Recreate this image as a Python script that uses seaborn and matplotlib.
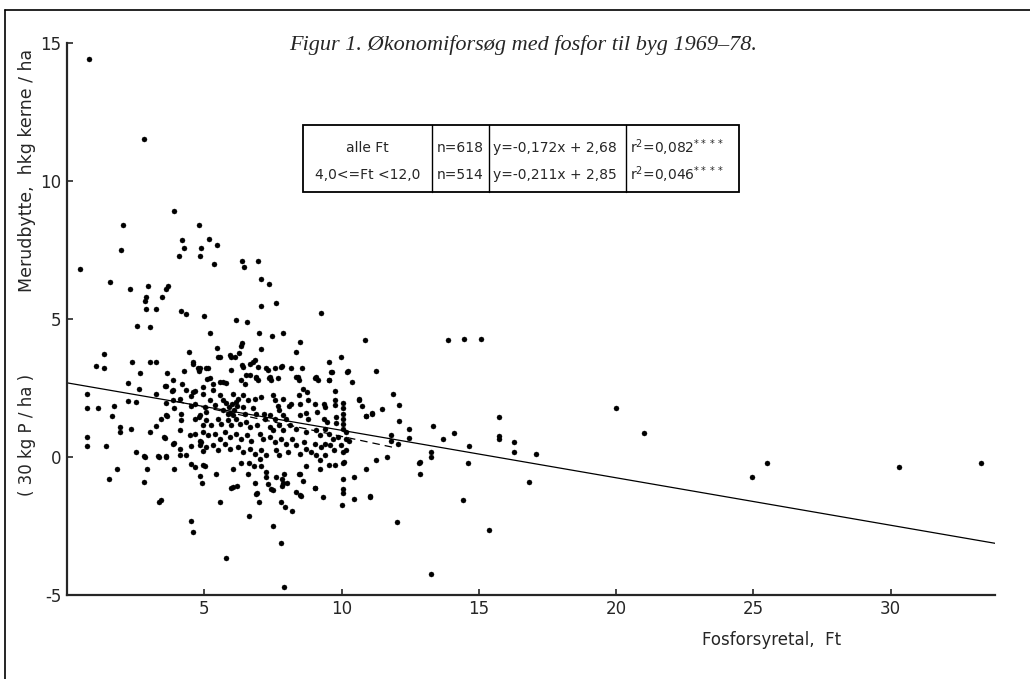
import matplotlib
matplotlib.use("Agg")
import matplotlib.pyplot as plt
import seaborn as sns
import numpy as np
import pandas as pd
from matplotlib.lines import Line2D
from matplotlib.patches import Rectangle

# points, grouped by band of Merudbytte (x = Ft, y = hkg/ha)
points_high = [
    (0.8, 14.4), (2.8, 11.5), (0.47, 6.8), (2.05, 8.4), (1.96, 7.5), (1.56, 6.35), (2.3, 6.07),
    (2.96, 6.2), (2.87, 5.8), (2.84, 5.65), (2.87, 5.36), (3.24, 5.36), (3.47, 5.8), (3.59, 6.07),
    (3.68, 6.18), (3.9, 8.9), (4.18, 7.87), (4.25, 7.56), (4.07, 7.28), (4.8, 8.39), (4.87, 7.56),
    (4.85, 7.27), (5.16, 7.88), (5.47, 7.66), (5.37, 6.97), (6.37, 7.08), (6.45, 6.87), (6.97, 7.08),
    (7.08, 6.45), (7.36, 6.25), (7.08, 5.48), (7.6, 5.57), (9.27, 5.22), (4.16, 5.28), (4.35, 5.16),
    (4.98, 5.09), (6.17, 4.96), (6.57, 4.87), (2.56, 4.75), (3.02, 4.7), (5.2, 4.47), (6.98, 4.47),
    (7.48, 4.39), (7.88, 4.47), (10.87, 4.23), (13.87, 4.23), (14.47, 4.25), (15.08, 4.27),
    (6.37, 4.11), (6.35, 4.03), (8.47, 4.15),
]
points_3_4 = [
    (5.47, 3.95), (9.99, 3.62), (4.45, 3.81), (1.36, 3.71), (1.04, 3.3), (1.36, 3.22), (2.37, 3.42),
    (3.02, 3.42), (3.26, 3.42), (5.5, 3.62), (5.93, 3.68), (6.27, 3.75), (6.36, 3.32), (6.65, 3.38),
    (6.84, 3.5), (6.96, 3.26), (7.26, 3.2), (7.56, 3.2), (7.84, 3.3), (8.33, 3.81), (9.56, 3.42),
    (8.17, 3.2), (8.57, 3.2), (11.26, 3.1), (9.66, 3.08), (10.25, 3.1), (4.59, 3.44), (4.78, 3.2),
    (5.14, 3.2), (4.27, 3.1), (3.66, 3.02), (2.65, 3.02), (7.07, 3.9), (5.99, 3.63), (6.11, 3.63),
    (5.56, 3.63), (6.77, 3.44), (5.99, 3.14), (6.41, 3.26), (7.32, 3.14), (7.8, 3.26), (5.08, 3.2),
    (4.84, 3.2), (9.63, 3.08), (10.21, 3.08), (4.6, 3.35), (4.8, 3.1),
]
points_2_3 = [
    (2.23, 2.69), (2.63, 2.47), (6.53, 2.96), (6.9, 2.84), (7.36, 2.86), (7.68, 2.84), (8.41, 2.9),
    (9.05, 2.86), (9.56, 2.77), (10.39, 2.72), (5.2, 2.84), (5.56, 2.72), (5.78, 2.69), (0.72, 2.29),
    (3.26, 2.29), (3.56, 2.57), (3.87, 2.41), (4.19, 2.62), (4.59, 2.35), (4.96, 2.53), (10.65, 2.08),
    (11.87, 2.29), (2.23, 2.01), (2.53, 1.99), (3.87, 2.77), (3.62, 2.56), (3.83, 2.39), (4.35, 2.41),
    (4.65, 2.39), (4.53, 2.21), (4.11, 2.11), (4.96, 2.29), (3.87, 2.05), (5.1, 2.81), (5.32, 2.65),
    (5.68, 2.72), (6.35, 2.77), (6.47, 2.65), (6.65, 2.96), (6.87, 2.9), (6.96, 2.77), (7.38, 2.9),
    (7.44, 2.77), (8.36, 2.9), (8.44, 2.77), (9.07, 2.9), (9.16, 2.77), (9.53, 2.77), (8.6, 2.45),
    (8.75, 2.33), (8.44, 2.25), (9.78, 2.37), (10.63, 2.05), (8.77, 2.05), (5.32, 2.41), (5.56, 2.23),
    (5.68, 2.05), (6.05, 2.29), (6.23, 2.11), (6.41, 2.23), (6.6, 2.05), (6.84, 2.11), (7.07, 2.17),
    (7.5, 2.23), (7.56, 2.05), (7.87, 2.11), (5.2, 2.05),
]
points_1_2 = [
    (0.72, 1.77), (1.12, 1.77), (1.72, 1.84), (1.63, 1.48), (10.75, 1.84), (10.9, 1.48), (11.12, 1.56),
    (11.48, 1.72), (12.08, 1.89), (12.08, 1.28), (12.47, 0.99), (13.32, 1.1), (15.72, 1.44),
    (1.93, 1.08), (3.24, 1.1), (3.44, 1.38), (3.62, 1.5), (3.62, 1.96), (3.89, 1.77), (4.53, 1.84),
    (4.65, 1.9), (3.65, 1.48), (4.17, 1.56), (4.17, 1.32), (4.65, 1.38), (4.8, 1.44), (4.96, 1.14),
    (2.33, 1.02), (4.11, 0.96), (9.04, 1.93), (9.35, 1.93), (9.41, 1.81), (9.78, 2.05), (9.78, 1.87),
    (10.07, 1.96), (10.07, 1.78), (8.08, 1.84), (8.17, 1.93), (8.47, 1.93), (7.68, 1.84), (7.74, 1.68),
    (5.8, 1.95), (5.9, 1.8), (6.0, 1.9), (6.1, 1.7), (6.2, 1.85), (5.95, 1.6), (6.05, 1.5), (5.7, 1.7),
    (6.15, 2.0), (5.85, 1.55), (5.38, 1.87), (5.02, 1.81), (5.08, 1.62), (4.84, 1.5), (6.41, 1.81),
    (6.47, 1.56), (6.77, 1.75), (6.87, 1.56), (7.16, 1.56), (7.23, 1.38), (7.41, 1.5), (7.59, 1.38),
    (7.87, 1.5), (7.99, 1.38), (8.11, 1.14), (8.47, 1.5), (8.71, 1.6), (8.77, 1.38), (9.12, 1.62),
    (9.35, 1.38), (9.47, 1.26), (9.81, 1.44), (9.81, 1.23), (10.07, 1.56), (10.07, 1.38), (10.07, 1.2),
    (10.07, 1.02), (5.08, 1.32), (5.25, 1.14), (5.5, 1.38), (5.62, 1.2), (5.87, 1.32), (5.99, 1.14),
    (6.17, 1.38), (6.29, 1.2), (6.53, 1.26), (6.65, 1.08), (6.94, 1.14), (7.38, 1.08), (7.74, 1.14),
    (8.34, 1.02), (9.41, 1.02), (11.1, 1.59), (10.88, 1.47), (20.01, 1.75),
]
points_0_1 = [
    (12.47, 0.68), (13.68, 0.65), (14.11, 0.86), (15.72, 0.75), (15.72, 0.63), (16.29, 0.53),
    (16.29, 0.19), (14.65, 0.39), (13.26, 0.19), (13.26, 0.0), (11.66, -0.01), (0.74, 0.72),
    (0.74, 0.39), (1.44, 0.39), (1.93, 0.9), (3.04, 0.9), (2.53, 0.17), (3.54, 0.72), (3.87, 0.47),
    (4.11, 0.07), (10.05, 0.17), (4.47, 0.78), (4.65, 0.82), (3.56, 0.69), (4.84, 0.59), (3.89, 0.51),
    (4.11, 0.29), (4.53, 0.39), (4.84, 0.41), (4.96, 0.2), (2.8, 0.02), (3.32, 0.02), (3.62, 0.02),
    (4.35, 0.07), (10.17, 0.9), (7.5, 0.96), (7.87, 0.96), (8.71, 0.9), (9.07, 0.96), (9.2, 0.78),
    (9.56, 0.84), (9.68, 0.65), (9.86, 0.72), (10.17, 0.65), (4.96, 0.9), (5.14, 0.78), (5.38, 0.84),
    (5.56, 0.65), (5.75, 0.9), (5.93, 0.72), (6.17, 0.84), (6.35, 0.65), (6.56, 0.78), (6.69, 0.59),
    (7.02, 0.84), (7.14, 0.65), (7.38, 0.72), (7.56, 0.53), (7.8, 0.65), (7.99, 0.47), (8.21, 0.65),
    (8.34, 0.41), (8.65, 0.53), (8.71, 0.29), (9.02, 0.47), (9.24, 0.35), (9.41, 0.47), (9.59, 0.41),
    (9.71, 0.23), (9.99, 0.41), (10.17, 0.23), (4.89, 0.53), (5.08, 0.35), (5.32, 0.41), (5.5, 0.23),
    (5.75, 0.47), (5.93, 0.29), (6.23, 0.35), (6.41, 0.17), (6.65, 0.29), (6.84, 0.11), (7.07, 0.23),
    (7.26, 0.05), (7.61, 0.23), (7.74, 0.05), (8.05, 0.17), (8.47, 0.11), (8.88, 0.17), (9.07, 0.05),
    (9.41, 0.05), (11.81, 0.8), (11.81, 0.59), (12.07, 0.47), (10.29, 0.59), (17.08, 0.1), (21.0, 0.86),
]
points_neg = [
    (11.24, -0.13), (12.86, -0.19), (12.86, -0.64), (14.59, -0.22), (14.43, -1.56), (12.03, -2.35),
    (15.36, -2.65), (13.26, -4.23), (7.9, -4.72), (7.8, -3.13), (7.5, -2.52), (5.81, -3.65),
    (6.63, -2.13), (4.5, -2.31), (4.59, -2.72), (3.36, -1.65), (3.42, -1.56), (5.56, -1.62),
    (6.99, -1.62), (7.78, -1.62), (8.21, -1.95), (9.32, -1.44), (10.01, -1.75), (10.44, -1.53),
    (11.05, -1.44), (8.51, -1.41), (8.33, -1.26), (1.54, -0.82), (1.84, -0.46), (2.8, -0.92),
    (2.9, -0.44), (2.84, -0.01), (3.35, -0.01), (3.62, -0.01), (3.9, -0.44), (4.84, -0.68),
    (4.92, -0.95), (5.44, -0.64), (4.53, -0.25), (4.65, -0.37), (5.02, -0.32), (6.05, -1.1),
    (6.2, -1.04), (6.6, -0.64), (6.84, -0.96), (6.9, -1.35), (7.26, -0.74), (7.32, -0.98),
    (7.42, -1.16), (7.5, -1.2), (7.87, -0.95), (7.9, -0.64), (8.47, -0.62), (8.6, -0.86),
    (9.02, -1.14), (10.05, -0.82), (10.05, -1.16), (10.05, -1.3), (10.44, -0.72), (10.08, -0.19),
    (4.96, -0.31), (6.05, -0.44), (5.98, -1.13), (6.35, -0.23), (6.63, -0.23), (6.92, -1.32),
    (6.81, -0.35), (7.07, -0.35), (7.04, -0.07), (7.26, -0.56), (7.61, -0.74), (7.84, -0.8),
    (7.84, -1.04), (8.01, -0.96), (7.93, -1.83), (8.48, -1.38), (8.44, -0.64), (9.03, -1.13),
    (8.71, -0.35), (9.2, -0.13), (9.2, -0.44), (9.56, -0.31), (9.75, -0.31), (10.05, -0.23),
    (10.9, -0.45), (11.04, -1.43), (12.84, -0.22), (16.84, -0.9), (24.96, -0.73), (25.48, -0.23),
    (30.29, -0.38), (33.28, -0.23),
]

# regression lines from the box
fit_all = (-0.172, 2.68)      # alle Ft
fit_all_x = [0, 33.8]
fit_sub = (-0.211, 2.85)      # 4,0 <= Ft < 12,0
fit_sub_x = [4.0, 12.0]

table_rows = [
    ["alle Ft", "n=618", "y=-0,172x + 2,68", r"r$^2$=0,082$^{****}$"],
    ["4,0<=Ft <12,0", "n=514", "y=-0,211x + 2,85", r"r$^2$=0,046$^{****}$"],
]

all_pts = points_high + points_3_4 + points_2_3 + points_1_2 + points_0_1 + points_neg
df = pd.DataFrame(all_pts, columns=["Ft", "merudbytte"])

sns.set_style("ticks")
plt.rcParams["font.family"] = ["DejaVu Sans"]
plt.rcParams["axes.unicode_minus"] = False

fig = plt.figure(figsize=(10.3, 6.79), dpi=100)
ax = fig.add_axes([0.065, 0.124, 0.901, 0.813])

sns.scatterplot(data=df, x="Ft", y="merudbytte", ax=ax, color="black", s=13,
                edgecolor="black", linewidth=0.3, zorder=3)

line_all = pd.DataFrame({"x": fit_all_x, "y": [fit_all[0] * v + fit_all[1] for v in fit_all_x]})
line_sub = pd.DataFrame({"x": fit_sub_x, "y": [fit_sub[0] * v + fit_sub[1] for v in fit_sub_x]})
sns.lineplot(data=line_all, x="x", y="y", ax=ax, color="black", linewidth=0.9, zorder=2)
sns.lineplot(data=line_sub, x="x", y="y", ax=ax, color="black", linewidth=0.9,
             linestyle=(0, (6, 4)), zorder=2)

ax.set_xlim(0, 33.8)
ax.set_ylim(-5, 15)
ax.set_xticks([5, 10, 15, 20, 25, 30])
ax.set_yticks([-5, 0, 5, 10, 15])
ax.tick_params(direction="in", length=4, width=1.2, labelsize=12, pad=4)
for side in ["top", "right"]:
    ax.spines[side].set_visible(False)
for side in ["left", "bottom"]:
    ax.spines[side].set_linewidth(1.6)
ax.set_xlabel("")
ax.set_ylabel("")

# axis labels placed as in the print
fig.text(0.749, 0.057, "Fosforsyretal,  Ft", ha="center", va="center", fontsize=12)
fig.text(0.026, 0.749, "Merudbytte,  hkg kerne / ha", rotation=90, ha="center", va="center", fontsize=12.5)
fig.text(0.026, 0.36, "( 30 kg P / ha )", rotation=90, ha="center", va="center", fontsize=12)

fig.text(0.508, 0.933, "Figur 1. Økonomiforsøg med fosfor til byg 1969–78.",
         family="Liberation Serif", style="italic", fontsize=16, ha="center", va="center")

# statistics box
bx0, bx1, by0, by1 = 0.294, 0.717, 0.717, 0.816
fig.add_artist(Rectangle((bx0, by0), bx1 - bx0, by1 - by0, transform=fig.transFigure,
                         fill=False, edgecolor="black", linewidth=1.3))
for xd in [0.419, 0.475, 0.608]:
    fig.add_artist(Line2D([xd, xd], [by0, by1], transform=fig.transFigure, color="black", linewidth=1.0))
row_y = [0.782, 0.742]
col_x = [(0.357, "center"), (0.447, "center"), (0.479, "left"), (0.612, "left")]
for r, row in enumerate(table_rows):
    for c, txt in enumerate(row):
        fig.text(col_x[c][0], row_y[r], txt, ha=col_x[c][1], va="center", fontsize=10)

# page frame lines
fig.add_artist(Line2D([0.005, 0.005], [0.0, 0.985], transform=fig.transFigure, color="black", linewidth=1.2))
fig.add_artist(Line2D([0.005, 1.0], [0.985, 0.985], transform=fig.transFigure, color="black", linewidth=1.2))

fig.savefig("out.png", dpi=100)
